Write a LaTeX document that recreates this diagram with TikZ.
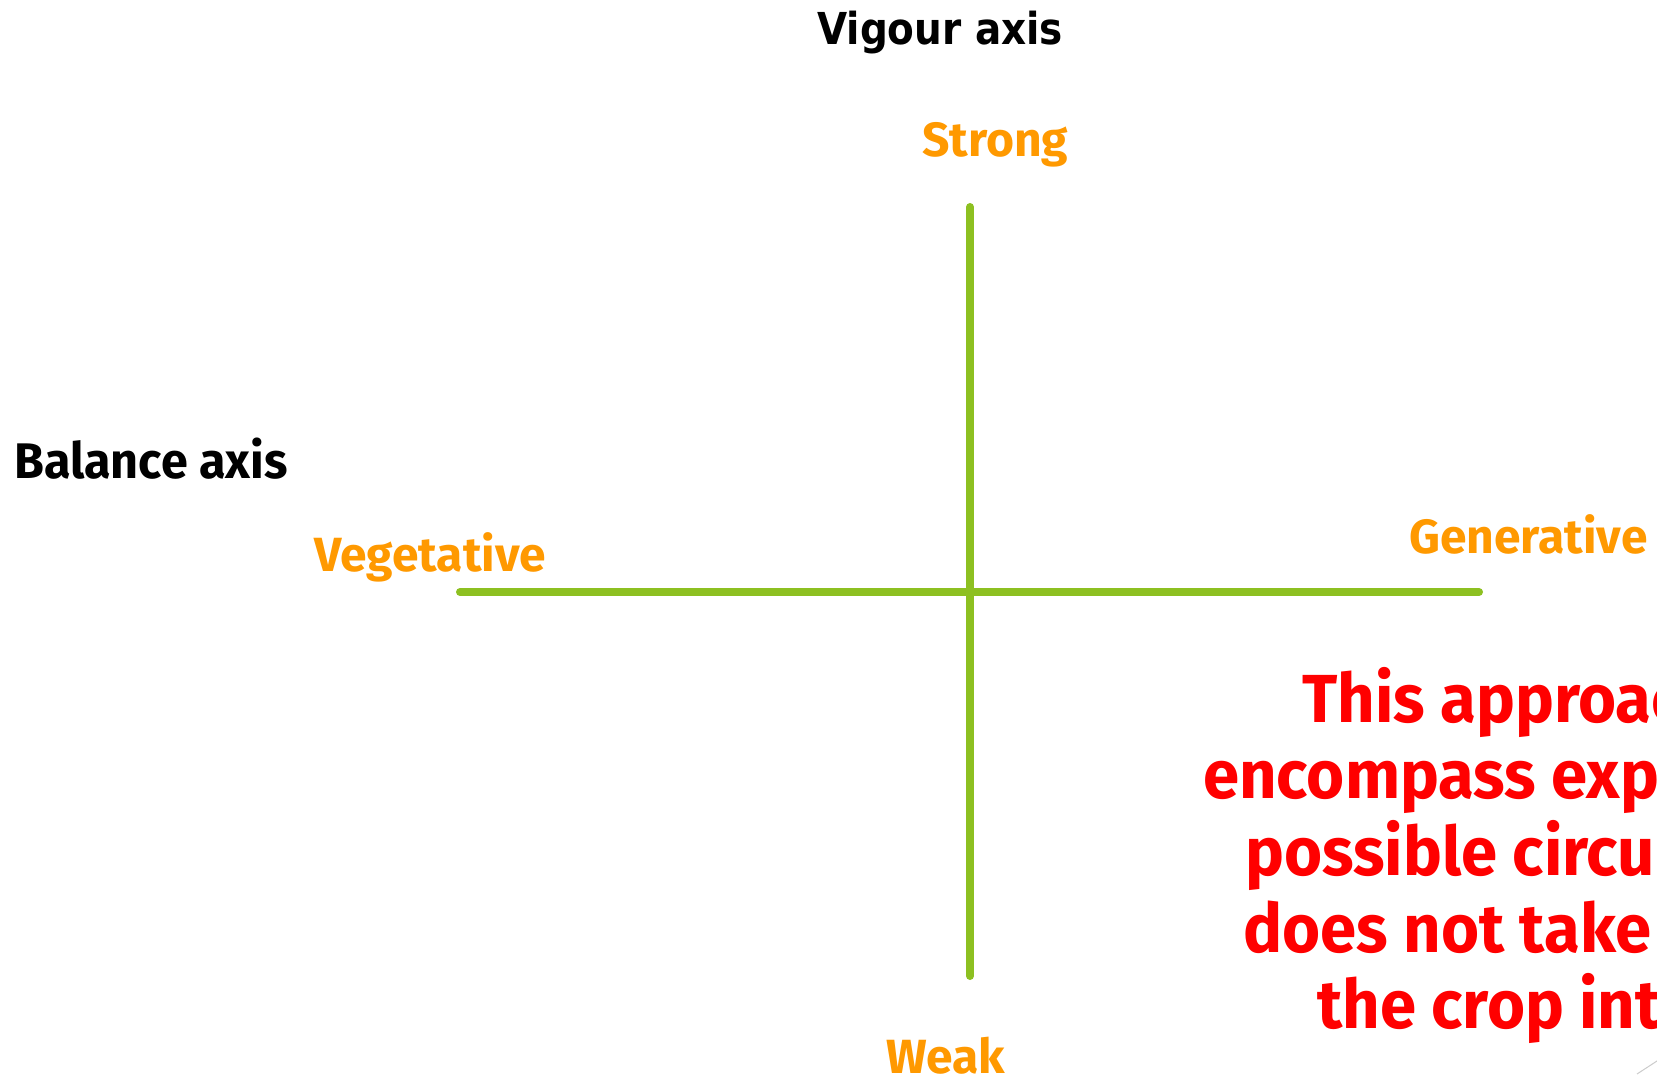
\documentclass[tikz,border=0pt]{standalone}
\usepackage{fontspec}
\setmainfont{Fira Sans}
\newfontfamily\headfont[FakeStretch=0.885]{DejaVu Sans}
\newfontfamily\balancefont[FakeStretch=0.97]{Fira Sans}
\newfontfamily\notefont[FakeStretch=0.96]{Fira Sans}
\definecolor{axisgreen}{HTML}{8DC021}
\definecolor{poleorange}{HTML}{FF9900}
\definecolor{notered}{HTML}{FF0000}
\begin{document}
\begin{tikzpicture}[x=1pt,y=-1pt,
  axisline/.style={draw=axisgreen,line width=8pt,line cap=round},
  axistitle/.style={anchor=base west,inner sep=0pt,font=\headfont\bfseries\fontsize{44}{50}\selectfont},
  balancetitle/.style={anchor=base west,inner sep=0pt,font=\balancefont\bfseries\fontsize{50}{56}\selectfont},
  pole/.style={anchor=base west,inner sep=0pt,text=poleorange,font=\bfseries\fontsize{48}{54}\selectfont},
  noteline/.style={anchor=base west,inner sep=0pt,text=notered,font=\notefont\bfseries\fontsize{68}{76}\selectfont}]
  \useasboundingbox (0,0) rectangle (1657,1075);
  \fill[white] (0,0) rectangle (1657,1075);

  % axis titles
  \node[axistitle] (vigour) at (817,45) {Vigour axis};
  \node[balancetitle] (balance) at (14,478) {Balance axis};

  % pole labels
  \node[pole] (strong) at (922,157) {Strong};
  \node[pole] (weak) at (886,1073) {Weak};
  \node[pole] (veg) at (314,571) {Vegetative};
  \node[pole] (gen) at (1409,553) {Generative};

  % the two axes
  \coordinate (vtop) at (970,207);
  \coordinate (vbot) at (970,976);
  \coordinate (hleft) at (460,592);
  \coordinate (hright) at (1479,592);
  \draw[axisline] (vtop) -- (vbot);
  \draw[axisline] (hleft) -- (hright);

  % remark running off the right edge
  \begin{scope}
    \clip (0,0) rectangle (1657,1075);
    \node[noteline] (n1) at (1302,722) {This approach};
    \node[noteline] (n2) at (1203,798) {encompass expected};
    \node[noteline] (n3) at (1245,875) {possible circumstances};
    \node[noteline] (n4) at (1243,952) {does not take into};
    \node[noteline] (n5) at (1317,1028) {the crop intention};
    \coordinate (g1) at (1637,1074);
    \coordinate (g2) at (1680,1046);
    \draw[gray!40,line width=1pt] (g1) -- (g2);
  \end{scope}
\end{tikzpicture}
\end{document}
